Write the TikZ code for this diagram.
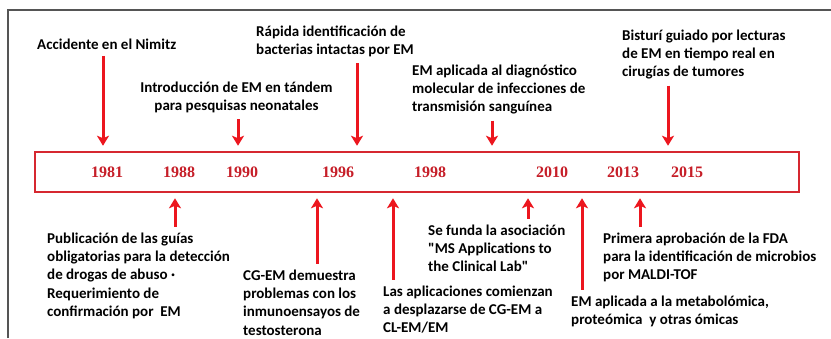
\documentclass[tikz,border=0pt]{standalone}
\usepackage{fontspec}
\setmainfont{Carlito}
\newfontfamily\yearfont{Liberation Serif}
\usepackage{tikz}
\usetikzlibrary {arrows.meta,
                 positioning}
\definecolor{arrowred}{RGB}{236,22,30}
\definecolor{barred}{RGB}{214,40,48}
\definecolor{yearred}{RGB}{198,30,40}
\definecolor{framegray}{RGB}{85,85,85}
\tikzset{
        event/.style={align=left, anchor=base west, inner sep=0pt,
                      font=\bfseries\fontsize{15}{18.2}\selectfont},
        eventc/.style={event, align=center, anchor=base},
        yearlbl/.style={anchor=base, inner sep=0pt, text=yearred,
                        font=\yearfont\bfseries\fontsize{16}{18}\selectfont},
        timebar/.style={draw=barred, line width=2.5pt, inner sep=0pt,
                        minimum width=764pt, minimum height=40pt},
        myarrow/.style={-{Stealth[length=10pt, width=12pt, inset=2.5pt]},
                        draw=arrowred, line width=3pt,
                        shorten <=6pt, shorten >=5pt},
 }

\begin{document}
\begin{tikzpicture}[x=1pt, y=-1pt]
    \useasboundingbox (0,0) rectangle (831,338);
    \draw[framegray, line width=2pt] (8,338) -- (8,10) -- (831,10);

    \node[timebar] (bar) at (417,172) {};

    % years
    \node[yearlbl] (y1981) at (107,177.5) {1981};
    \node[yearlbl] (y1988) at (179,177.5) {1988};
    \node[yearlbl] (y1990) at (242,177.5) {1990};
    \node[yearlbl] (y1996) at (338,177.5) {1996};
    \node[yearlbl] (y1998) at (430,177.5) {1998};
    \node[yearlbl] (y2010) at (552,177.5) {2010};
    \node[yearlbl] (y2013) at (623,177.5) {2013};
    \node[yearlbl] (y2015) at (687,177.5) {2015};

    % events above the bar (placed by the baseline of their last line)
    \node[event] (nimitz) at (37,49.5) {Accidente en el Nimitz};
    \node[eventc] (tandem) at (236.5,110.7) {Introducción de EM en tándem\\
        para pesquisas neonatales};
    \node[event] (rapida) at (256,54.7) {Rápida identificación de\\
        bacterias intactas por EM};
    \node[event] (diag) at (412,111.9) {EM aplicada al diagnóstico\\
        molecular de infecciones de\\ transmisión sanguínea};
    \node[event] (bisturi) at (622,76.9) {Bisturí guiado por lecturas\\
        de EM en tiempo real en\\ cirugías de tumores};

    % events below the bar
    \node[event] (guias) at (47,316.3) {Publicación de las guías\\
        obligatorias para la detección\\ de drogas de abuso ·\\
        Requerimiento de\\ confirmación por\ \ EM};
    \node[event] (cgem) at (243,335.1) {CG-EM demuestra\\
        problemas con los\\ inmunoensayos de\\ testosterona};
    \node[event] (despl) at (383,332.9) {Las aplicaciones comienzan\\
        a desplazarse de CG-EM a\\ CL-EM/EM};
    \node[event] (asoc) at (428,271.9) {Se funda la asociación\\
        \textquotedbl MS Applications to\\ the Clinical Lab\textquotedbl};
    \node[event] (metab) at (571,324.7) {EM aplicada a la metabolómica,\\
        proteómica\ \ y otras ómicas};
    \node[event] (fda) at (603,279.9) {Primera aprobación de la FDA\\
        para la identificación de microbios\\ por MALDI-TOF};

    % arrow ends on the bar
    \coordinate (d1) at (103,147);
    \coordinate (d2) at (238,147);
    \coordinate (d3) at (357,147);
    \coordinate (d4) at (492,147);
    \coordinate (d5) at (668,147);
    \coordinate (u1) at (175,197);
    \coordinate (u2) at (317,197);
    \coordinate (u3) at (393,197);
    \coordinate (u4) at (528,197);
    \coordinate (u5) at (582,197);
    \coordinate (u6) at (640,197);

    \draw[myarrow] (nimitz.south -| d1) -- (d1 |- bar.north);
    \draw[myarrow] (tandem.south -| d2) -- (d2 |- bar.north);
    \draw[myarrow] (rapida.south -| d3) -- (d3 |- bar.north);
    \draw[myarrow] (diag.south -| d4) -- (d4 |- bar.north);
    \draw[myarrow] (bisturi.south -| d5) -- (d5 |- bar.north);

    \draw[myarrow] (guias.north -| u1) -- (u1 |- bar.south);
    \draw[myarrow] (cgem.north -| u2) -- (u2 |- bar.south);
    \draw[myarrow] (despl.north -| u3) -- (u3 |- bar.south);
    \draw[myarrow] (asoc.north -| u4) -- (u4 |- bar.south);
    \draw[myarrow] (metab.north -| u5) -- (u5 |- bar.south);
    \draw[myarrow] (fda.north -| u6) -- (u6 |- bar.south);
\end{tikzpicture}
\end{document}
